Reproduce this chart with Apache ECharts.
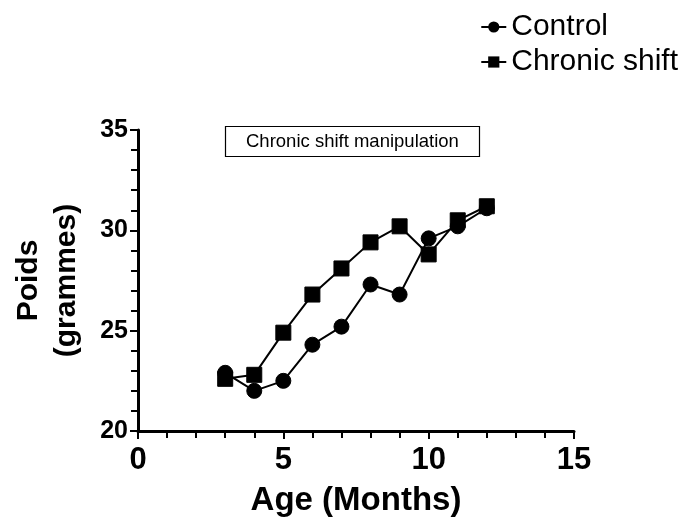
<!DOCTYPE html>
<html>
<head>
<meta charset="utf-8">
<script src="https://cdn.jsdelivr.net/npm/echarts@6/dist/echarts.min.js"></script>
<style>html,body{margin:0;padding:0;background:#fff}#c{width:683px;height:524px}</style>
</head>
<body>
<div id="c"></div>
<script>
var months = [3, 4, 5, 6, 7, 8, 9, 10, 11, 12];
var controlValues = [22.9, 22.0, 22.5, 24.3, 25.2, 27.3, 26.8, 29.6, 30.2, 31.1];
var chronicValues = [22.6, 22.8, 24.9, 26.8, 28.1, 29.4, 30.2, 28.8, 30.5, 31.2];
var seriesNames = ['Control', 'Chronic shift'];
var titleText = 'Chronic shift manipulation';
var xName = 'Age (Months)';
var yName = 'Poids\n(grammes)';

function pairs(xs, ys) { return xs.map(function (x, i) { return [x, ys[i]]; }); }

var FONT = '"Liberation Sans", Arial, Helvetica, sans-serif';
var chart = echarts.init(document.getElementById('c'), null, { renderer: 'canvas' });
chart.setOption({
  animation: false,
  backgroundColor: '#fff',
  textStyle: { fontFamily: FONT, color: '#000' },
  title: {
    text: titleText,
    left: 225, top: 126,
    padding: [6, 21],
    borderColor: '#000', borderWidth: 1.2,
    textStyle: { fontFamily: FONT, fontSize: 18.5, fontWeight: 'normal', color: '#000', lineHeight: 19 }
  },
  legend: {
    orient: 'vertical',
    right: 0, top: 7,
    itemWidth: 25, itemHeight: 14, itemGap: 5,
    textStyle: { fontFamily: FONT, fontSize: 30, color: '#000' },
    data: seriesNames
  },
  grid: { left: 138, right: 109, top: 130, bottom: 93, containLabel: false, outerBoundsMode: 'none' },
  xAxis: {
    type: 'value', min: 0, max: 15, interval: 5,
    name: xName, nameLocation: 'middle', nameGap: 53,
    nameTextStyle: { fontFamily: FONT, fontSize: 33, fontWeight: 'bold', color: '#000' },
    axisLine: { show: true, onZero: false, lineStyle: { color: '#000', width: 3 } },
    axisTick: { show: true, length: 8, lineStyle: { color: '#000', width: 2 } },
    minorTick: { show: true, splitNumber: 5, length: 7, lineStyle: { color: '#000', width: 2 } },
    splitLine: { show: false },
    axisLabel: { fontFamily: FONT, fontSize: 31, fontWeight: 'bold', color: '#000', margin: 14 }
  },
  yAxis: {
    type: 'value', min: 20, max: 35, interval: 5,
    name: yName, nameLocation: 'middle', nameGap: 52, nameRotate: 90,
    nameTextStyle: { fontFamily: FONT, fontSize: 30, fontWeight: 'bold', color: '#000', lineHeight: 38, align: 'center' },
    axisLine: { show: true, onZero: false, lineStyle: { color: '#000', width: 3 } },
    axisTick: { show: true, length: 8, lineStyle: { color: '#000', width: 2 } },
    minorTick: { show: true, splitNumber: 5, length: 7, lineStyle: { color: '#000', width: 2 } },
    splitLine: { show: false },
    axisLabel: { fontFamily: FONT, fontSize: 25, fontWeight: 'bold', color: '#000', margin: 10 }
  },
  series: [
    {
      name: seriesNames[0], type: 'line', data: pairs(months, controlValues),
      symbol: 'circle', symbolSize: 15, showAllSymbol: true,
      lineStyle: { color: '#000', width: 2 },
      itemStyle: { color: '#000', borderColor: '#000' }, z: 3
    },
    {
      name: seriesNames[1], type: 'line', data: pairs(months, chronicValues),
      symbol: 'rect', symbolSize: 15, showAllSymbol: true,
      lineStyle: { color: '#000', width: 2 },
      itemStyle: { color: '#000', borderColor: '#000' }, z: 2
    }
  ]
});
</script>
</body>
</html>
